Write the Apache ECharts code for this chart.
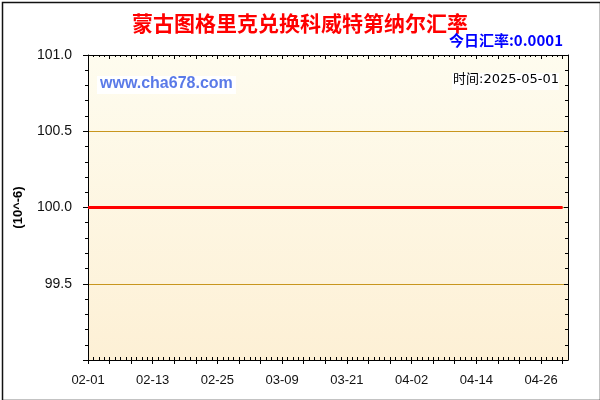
<!DOCTYPE html>
<html>
<head>
<meta charset="utf-8">
<title>蒙古图格里克兑换科威特第纳尔汇率</title>
<script src="https://cdn.jsdelivr.net/npm/echarts@6/dist/echarts.min.js"></script>
<style>
  html, body { margin: 0; padding: 0; background: #fff; }
  #main { width: 600px; height: 400px; }
</style>
</head>
<body>
<div id="main"></div>
<script>
// 日期 (02-01 ~ 05-01)
var dates = [
  '02-01','02-02','02-03','02-04','02-05','02-06','02-07','02-08','02-09','02-10',
  '02-11','02-12','02-13','02-14','02-15','02-16','02-17','02-18','02-19','02-20',
  '02-21','02-22','02-23','02-24','02-25','02-26','02-27','02-28',
  '03-01','03-02','03-03','03-04','03-05','03-06','03-07','03-08','03-09','03-10',
  '03-11','03-12','03-13','03-14','03-15','03-16','03-17','03-18','03-19','03-20',
  '03-21','03-22','03-23','03-24','03-25','03-26','03-27','03-28','03-29','03-30','03-31',
  '04-01','04-02','04-03','04-04','04-05','04-06','04-07','04-08','04-09','04-10',
  '04-11','04-12','04-13','04-14','04-15','04-16','04-17','04-18','04-19','04-20',
  '04-21','04-22','04-23','04-24','04-25','04-26','04-27','04-28','04-29','04-30',
  '05-01'
];
// 汇率 (10^-6), 02-01 ~ 04-30
var rates = [
  100.0,100.0,100.0,100.0,100.0,100.0,100.0,100.0,100.0,100.0,
  100.0,100.0,100.0,100.0,100.0,100.0,100.0,100.0,100.0,100.0,
  100.0,100.0,100.0,100.0,100.0,100.0,100.0,100.0,
  100.0,100.0,100.0,100.0,100.0,100.0,100.0,100.0,100.0,100.0,
  100.0,100.0,100.0,100.0,100.0,100.0,100.0,100.0,100.0,100.0,
  100.0,100.0,100.0,100.0,100.0,100.0,100.0,100.0,100.0,100.0,100.0,
  100.0,100.0,100.0,100.0,100.0,100.0,100.0,100.0,100.0,100.0,
  100.0,100.0,100.0,100.0,100.0,100.0,100.0,100.0,100.0,100.0,
  100.0,100.0,100.0,100.0,100.0,100.0,100.0,100.0,100.0,100.0
];
var yTicks = [99.0, 99.5, 100.0, 100.5, 101.0];
var titleText = '蒙古图格里克兑换科威特第纳尔汇率';
var todayText = '今日汇率:0.0001';
var timeText = '时间:2025-05-01';
var siteText = 'www.cha678.com';

var myChart = echarts.init(document.getElementById('main'));

var axisFont = { fontFamily: 'Liberation Sans, Arial', fontSize: 13, color: '#111' };

var option = {
  animation: false,
  backgroundColor: '#fff',
  title: {
    text: titleText,
    left: 'center',
    top: 8,
    textStyle: { color: '#ff0000', fontSize: 21, fontWeight: 'bold', fontFamily: 'Noto Sans CJK SC' }
  },
  grid: { left: 88, right: 32, top: 55, bottom: 40,
    show: true, borderWidth: 0,
    backgroundColor: new echarts.graphic.LinearGradient(0, 0, 0, 1, [
      { offset: 0, color: '#fefcef' },
      { offset: 1, color: '#fdf0d5' }
    ])
  },
  xAxis: [
    {
      type: 'category', data: dates, boundaryGap: false, position: 'bottom',
      axisLine: { lineStyle: { color: '#000', width: 1 } },
      axisTick: { interval: 0, inside: true, length: 3, lineStyle: { color: '#000' } },
      axisLabel: { interval: 11, margin: 14, ...axisFont },
      splitLine: { show: false }
    },
    {
      type: 'category', data: dates, boundaryGap: false, position: 'bottom',
      axisLine: { show: false },
      axisTick: { interval: 3, inside: false, length: 4, lineStyle: { color: '#000' } },
      axisLabel: { show: false },
      splitLine: { show: false }
    },
    {
      type: 'category', data: dates, boundaryGap: false, position: 'top',
      axisLine: { lineStyle: { color: '#000', width: 1 } },
      axisTick: { interval: 0, inside: true, length: 2, lineStyle: { color: '#000' } },
      axisLabel: { show: false },
      splitLine: { show: false }
    },
    {
      type: 'category', data: dates, boundaryGap: false, position: 'top',
      axisLine: { show: false },
      axisTick: { interval: 3, inside: true, length: 4, lineStyle: { color: '#000' } },
      axisLabel: { show: false },
      splitLine: { show: false }
    }
  ],
  yAxis: [
    {
      type: 'value', min: yTicks[0], max: yTicks[yTicks.length - 1], interval: 0.5,
      position: 'left',
      name: '(10^-6)', nameLocation: 'middle', nameGap: 63, nameRotate: 90,
      nameTextStyle: { fontFamily: 'Liberation Sans, Arial', fontSize: 13, fontWeight: 'bold', color: '#000' },
      axisLine: { show: true, lineStyle: { color: '#000', width: 1 } },
      axisTick: { show: true, inside: false, length: 5, lineStyle: { color: '#000' } },
      minorTick: { show: true, splitNumber: 5, length: 3, lineStyle: { color: '#000' } },
      axisLabel: { margin: 16, showMinLabel: false,
        formatter: function (v) { return v.toFixed(1); }, ...axisFont, fontSize: 14 },
      splitLine: { show: true, lineStyle: { color: '#c8961e', width: 1 } }
    },
    {
      type: 'value', min: yTicks[0], max: yTicks[yTicks.length - 1], interval: 0.5,
      position: 'right',
      axisLine: { show: true, lineStyle: { color: '#000', width: 1 } },
      axisTick: { show: true, inside: true, length: 4, lineStyle: { color: '#000' } },
      minorTick: { show: true, splitNumber: 5, length: 3, lineStyle: { color: '#000' } },
      axisLabel: { show: false },
      splitLine: { show: false }
    }
  ],
  graphic: [
    { type: 'rect', left: 0, top: 0, z: 100, silent: true,
      shape: { width: 598, height: 398 },
      style: { fill: null, stroke: '#111', lineWidth: 1.5 } },
    { type: 'text', right: 37, top: 33, z: 100,
      style: { text: todayText, fill: '#0000ff', font: 'bold 15px "Noto Sans CJK SC"' } },
    { type: 'rect', left: 97, top: 76, z: 90,
      shape: { width: 139, height: 18 }, style: { fill: '#fff' } },
    { type: 'text', left: 100, top: 76, z: 100,
      style: { text: siteText, fill: '#5a7ae8', font: 'bold 16px "Liberation Sans", Arial' } },
    { type: 'rect', left: 452, top: 73, z: 90,
      shape: { width: 107, height: 17 }, style: { fill: '#fff' } },
    { type: 'text', left: 453, top: 73, z: 100,
      style: { text: timeText, fill: '#000', font: '13px "DejaVu Sans", "Noto Sans CJK SC"' } }
  ],
  series: [
    {
      type: 'line', xAxisIndex: 0, yAxisIndex: 0,
      data: rates,
      showSymbol: false,
      lineStyle: { color: '#ff0000', width: 3 },
      z: 10
    }
  ]
};

myChart.setOption(option);
</script>
</body>
</html>
